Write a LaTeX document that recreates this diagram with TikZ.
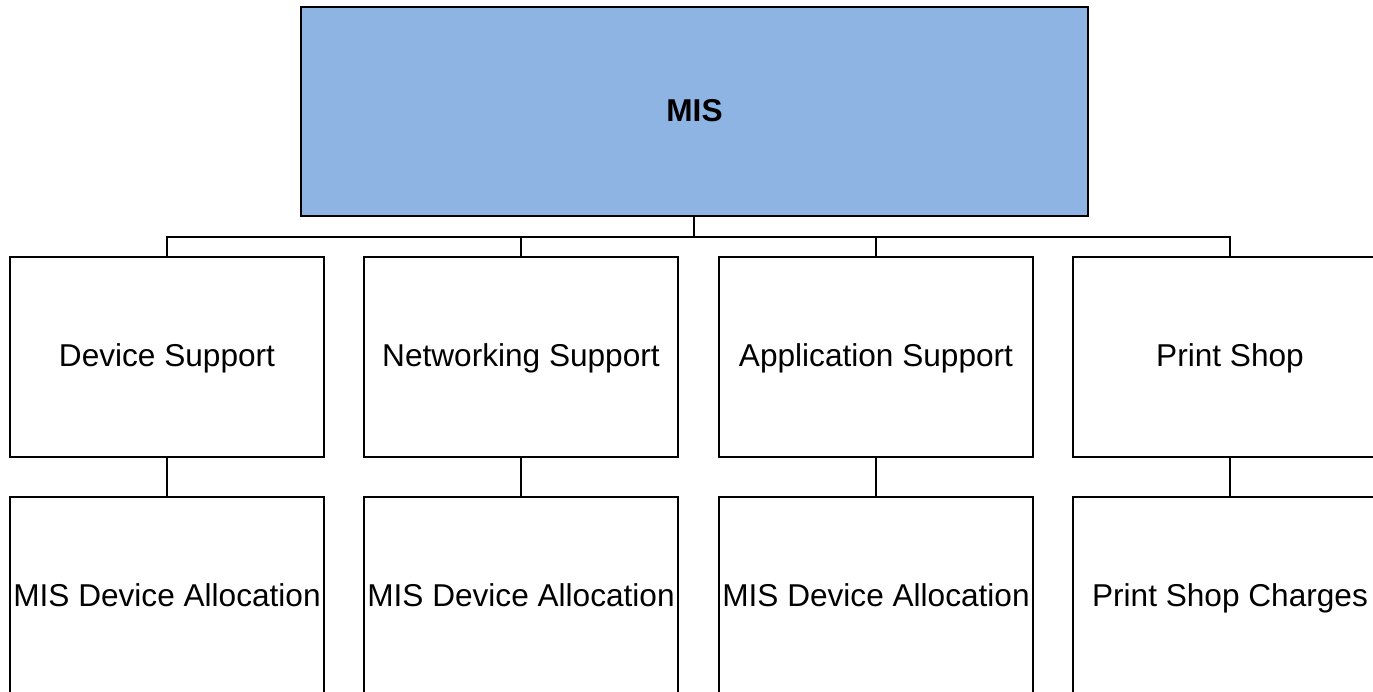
\documentclass[tikz,border=0pt]{standalone}
\usepackage{fontspec}
\setmainfont{Liberation Sans}
\definecolor{misblue}{HTML}{8EB4E3}
\begin{document}
\begin{tikzpicture}[x=1pt,y=-1pt,
  box/.style={draw=black, line width=1.8pt, fill=white, minimum width=314pt, minimum height=200pt, inner sep=0pt, text height=23pt, text depth=4pt, font=\fontsize{31.6}{36}\selectfont, anchor=center},
  topbox/.style={draw=black, line width=2pt, fill=misblue, minimum width=787pt, minimum height=209pt, inner sep=0pt, text height=23pt, text depth=3pt, font=\fontsize{31.6}{36}\selectfont\bfseries},
  link/.style={draw=black, line width=1.8pt}]
\useasboundingbox (0,0) rectangle (1373,692);
\clip (0,0) rectangle (1373,692);
\fill[white] (0,0) rectangle (1373,692);
\node[topbox] (mis) at (694.5,111.5) {MIS};
\node[box] (a1) at (167,357) {Device Support};
\node[box] (a2) at (521,357) {Networking Support};
\node[box] (a3) at (876,357) {Application Support};
\node[box] (a4) at (1230,357) {Print Shop};
\node[box] (b1) at (167,597) {MIS Device Allocation};
\node[box] (b2) at (521,597) {MIS Device Allocation};
\node[box] (b3) at (876,597) {MIS Device Allocation};
\node[box] (b4) at (1230,597) {Print Shop Charges};
\coordinate (bus) at (694,237);
\draw[link] (bus |- mis.south) -- (bus);
\draw[link] (bus) -| (a1.north);
\draw[link] (bus) -| (a2.north);
\draw[link] (bus) -| (a3.north);
\draw[link] (bus) -| (a4.north);
\draw[link] (a1.south) -- (b1.north);
\draw[link] (a2.south) -- (b2.north);
\draw[link] (a3.south) -- (b3.north);
\draw[link] (a4.south) -- (b4.north);
\end{tikzpicture}
\end{document}
